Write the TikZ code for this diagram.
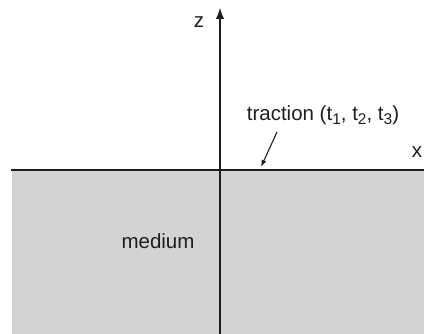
\documentclass[tikz,border=0pt]{standalone}
\usepackage{fontspec}
\setmainfont{Liberation Sans}
\usetikzlibrary{arrows.meta}
\definecolor{cink}{HTML}{1E1E1E}
\definecolor{cmedium}{HTML}{D3D3D3}
\newcommand{\tsub}[1]{\raisebox{-0.42ex}{\fontsize{15.5pt}{16pt}\selectfont #1}}
\tikzset{
  every picture/.style={font=\fontsize{20.5pt}{24pt}\selectfont, text=cink},
  axis/.style={-{Latex[length=12pt, width=8.5pt]}, draw=cink, line width=2.6pt},
  pointer/.style={-{Latex[length=7pt, width=5pt]}, draw=cink, line width=1.1pt},
  lbl/.style={inner sep=1pt},
}
\begin{document}
\begin{tikzpicture}[x=1pt, y=-1pt]
  \useasboundingbox (0,0) rectangle (424,334);
  \clip (0,0) rectangle (424,334);
  % half space below the surface
  \fill[cmedium] (12,170) rectangle (430,340);
  \coordinate (zbot) at (220,340); \coordinate (ztip) at (220,7);
  \coordinate (xleft) at (11,170); \coordinate (xtip) at (436,170);
  \draw[axis] (zbot) -- (ztip);
  \draw[axis] (xleft) -- (xtip);
  \node[lbl] (zlab) at (199,22) {z};
  \node[lbl] (xlab) at (417,152) {x};
  \node[lbl] (trac) at (323,115) {traction (t\tsub{1}, t\tsub{2}, t\tsub{3})};
  \coordinate (tracfoot) at (277,132); \coordinate (tracpt) at (261,167);
  \draw[pointer] (tracfoot) -- (tracpt);
  \node[lbl] (med) at (158,241) {medium};
\end{tikzpicture}
\end{document}
